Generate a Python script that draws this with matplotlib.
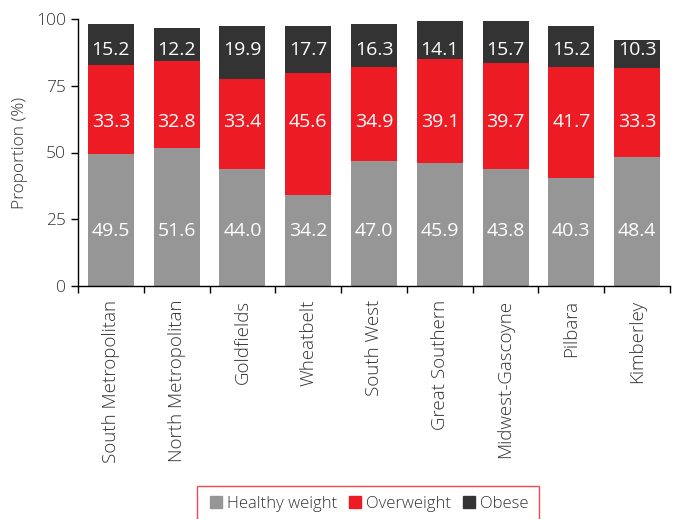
import matplotlib.pyplot as plt
from matplotlib.lines import Line2D
import numpy as np

# data
regions = ["South Metropolitan", "North Metropolitan", "Goldfields", "Wheatbelt",
           "South West", "Great Southern", "Midwest-Gascoyne", "Pilbara", "Kimberley"]
healthy = [49.5, 51.6, 44.0, 34.2, 47.0, 45.9, 43.8, 40.3, 48.4]
overweight = [33.3, 32.8, 33.4, 45.6, 34.9, 39.1, 39.7, 41.7, 33.3]
obese = [15.2, 12.2, 19.9, 17.7, 16.3, 14.1, 15.7, 15.2, 10.3]
series_names = ["Healthy weight", "Overweight", "Obese"]

colors = ["#969696", "#ed1c24", "#333333"]
label_base = [18.8, 59.7, 86.6]  # baseline heights of the value labels
txt = "#333333"

plt.rcParams['font.family'] = ['Open Sans', 'DejaVu Sans']
plt.rcParams['font.weight'] = 'light'
plt.rcParams['axes.labelweight'] = 'light'

fig = plt.figure(figsize=(6.78, 5.19), dpi=100)
ax = fig.add_axes([78 / 678, 1 - 286 / 519, (670 - 78) / 678, (286 - 19) / 519])

x = np.arange(len(regions))
bottom = np.zeros(len(regions))
for vals, col, ly in zip([healthy, overweight, obese], colors, label_base):
    vals = np.array(vals)
    ax.bar(x, vals, 0.7, bottom=bottom, color=col, linewidth=0)
    for xi, v in zip(x, vals):
        ax.text(xi, ly, f"{v:.1f}", ha='center', va='baseline', color='white',
                fontsize=14, fontweight='normal')
    bottom += vals

ax.set_xlim(-0.5, len(regions) - 0.5)
ax.set_ylim(0, 100)
ax.set_yticks([0, 25, 50, 75, 100])
ax.set_ylabel("Proportion (%)", fontsize=12.5, color=txt, labelpad=6)

ax.set_xticks(x)
ax.set_xticklabels(regions, rotation=90, fontsize=13.5, color=txt)
ax.set_xticks(np.arange(len(regions) + 1) - 0.5, minor=True)
ax.tick_params(axis='x', which='major', length=0, pad=10)
ax.tick_params(axis='x', which='minor', length=5, direction='out', width=1)
ax.tick_params(axis='y', length=5, width=1, labelsize=12.5, labelcolor=txt)

for s in ['top', 'right']:
    ax.spines[s].set_visible(False)
for s in ['left', 'bottom']:
    ax.spines[s].set_linewidth(1)

handles = [Line2D([], [], marker='s', linestyle='none', markersize=9, color=c) for c in colors]
leg = fig.legend(handles, series_names, ncol=3, loc='upper center',
                 bbox_to_anchor=(368 / 678, 1 - 486 / 519), borderaxespad=0, fontsize=12,
                 frameon=True, fancybox=False, handletextpad=0.15, columnspacing=0.6,
                 borderpad=0.6, handlelength=1.0, labelcolor=txt)
leg.get_frame().set_edgecolor('#ed1c24')
leg.get_frame().set_linewidth(1)

fig.savefig("out.png", dpi=100)
